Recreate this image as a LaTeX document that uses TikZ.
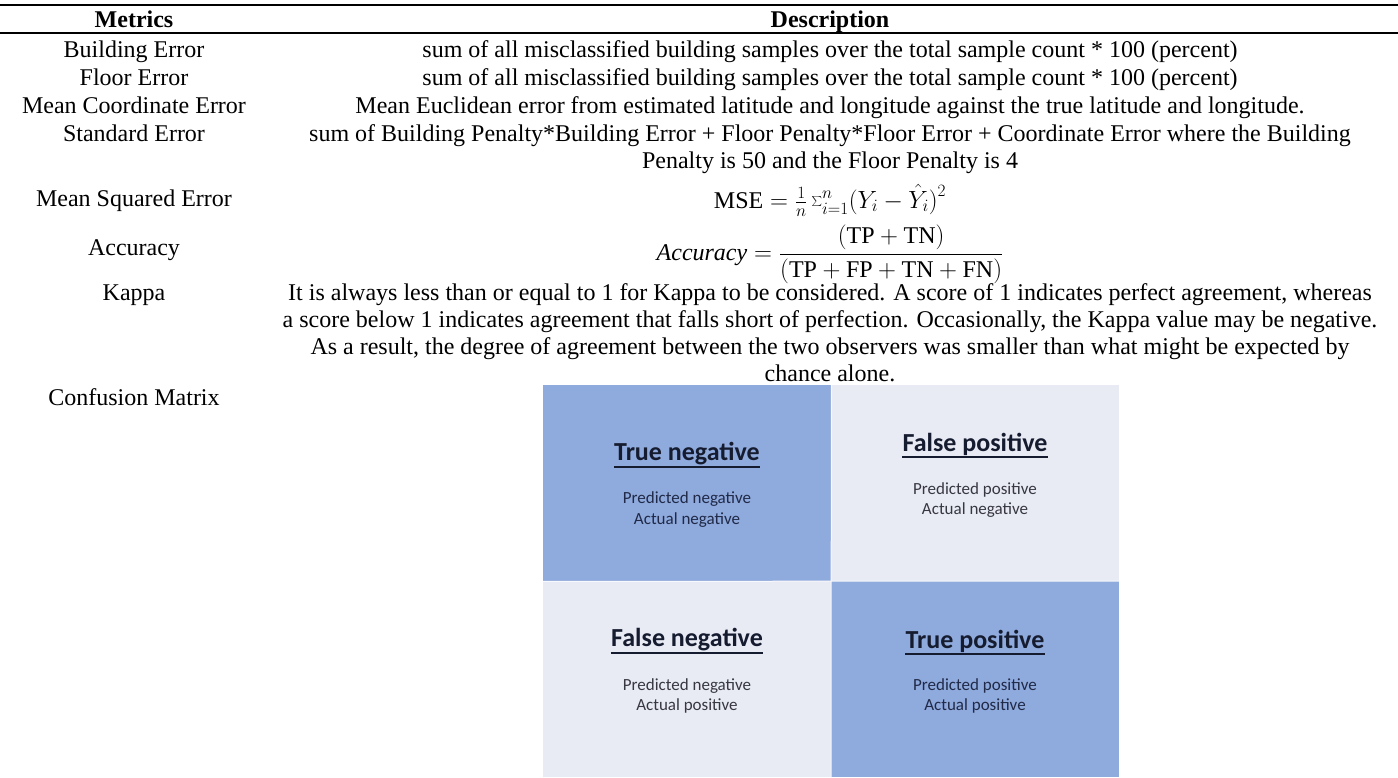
\documentclass[tikz,border=0pt]{standalone}
\usepackage{fontspec}
\setmainfont{Liberation Serif}
\newfontfamily\calibrifont{Carlito}
\definecolor{cmdark}{RGB}{143,170,220}
\definecolor{cmlight}{RGB}{232,234,244}
\definecolor{cmtitle}{RGB}{22,28,48}
\definecolor{cmsubdark}{RGB}{32,42,72}
\definecolor{cmsublight}{RGB}{55,55,65}
\begin{document}
\begin{tikzpicture}[x=1pt,y=-1pt,
  txt/.style={anchor=base, inner sep=0pt, font=\fontsize{24}{27.6}\selectfont},
  hdr/.style={txt, font=\fontsize{24}{27.6}\selectfont\bfseries},
  rulel/.style={line width=1.6pt},
  cellbox/.style={anchor=north west, inner sep=0pt, minimum width=288, minimum height=196},
  darkcell/.style={cellbox, fill=cmdark},
  lightcell/.style={cellbox, fill=cmlight},
  cmhead/.style={anchor=base, inner sep=0pt, text=cmtitle, font=\calibrifont\fontsize{26}{29}\selectfont\bfseries},
  cmsub/.style={anchor=base, inner sep=0pt, font=\calibrifont\fontsize{17}{20}\selectfont},
  uline/.style={line width=2pt, cmtitle}
]
\useasboundingbox (0,0) rectangle (1398,777);
% rules
\coordinate (r1a) at (0,4.7); \coordinate (r1b) at (1398,4.7);
\coordinate (r2a) at (0,33); \coordinate (r2b) at (1398,33);
\draw[rulel] (r1a) -- (r1b);
\draw[line width=1.2pt] (r2a) -- (r2b);
% header
\node[hdr] (hm) at (134,27) {Metrics};
\node[hdr] (hd) at (830,27) {Description};
% rows
\node[txt] (m1) at (134,57) {Building Error};
\node[txt] (d1) at (830,57) {sum of all misclassified building samples over the total sample count * 100 (percent)};
\node[txt] (m2) at (134,85) {Floor Error};
\node[txt] (d2) at (830,85) {sum of all misclassified building samples over the total sample count * 100 (percent)};
\node[txt] (m3) at (134,113) {Mean Coordinate Error};
\node[txt] (d3) at (830,113) {Mean Euclidean error from estimated latitude and longitude against the true latitude and longitude.};
\node[txt] (m4) at (134,141) {Standard Error};
\node[txt] (d4a) at (830,141) {sum of Building Penalty*Building Error + Floor Penalty*Floor Error + Coordinate Error where the Building};
\node[txt] (d4b) at (830,168) {Penalty is 50 and the Floor Penalty is 4};
\node[txt] (m5) at (134,206) {Mean Squared Error};
\node[txt] (d5) at (830,208) {$\mathrm{MSE}=\frac{1}{n}\sum_{i=1}^{n}\bigl(Y_i-\hat{Y}_i\bigr)^2$};
\node[txt] (m6) at (134,255) {Accuracy};
\node[anchor=center, inner sep=0pt, font=\fontsize{24}{27.6}\selectfont] (d6) at (830,254) {$\displaystyle \mathit{Accuracy}=\frac{(\mathrm{TP}+\mathrm{TN})}{(\mathrm{TP}+\mathrm{FP}+\mathrm{TN}+\mathrm{FN})}$};
\node[txt] (m7) at (134,300) {Kappa};
\node[txt] (d7a) at (830,300) {It is always less than or equal to 1 for Kappa to be considered. A score of 1 indicates perfect agreement, whereas};
\node[txt] (d7b) at (830,327) {a score below 1 indicates agreement that falls short of perfection. Occasionally, the Kappa value may be negative.};
\node[txt] (d7c) at (830,354) {As a result, the degree of agreement between the two observers was smaller than what might be expected by};
\node[txt] (d7d) at (830,381) {chance alone.};
\node[txt] (m8) at (134,405) {Confusion Matrix};
% confusion matrix
\node[darkcell] (tn) at (543,385) {};
\node[lightcell] (fp) at (831,385) {};
\node[lightcell] (fn) at (543,581) {};
\node[darkcell] (tp) at (831,581) {};
\draw[white!70!cmlight, line width=1pt] (tn.north east) -- (tp.south west);
\draw[white!70!cmlight, line width=1pt] (tn.south west) -- (tp.north east);
% TN
\node[cmhead] (tnh) at (687,460) {True negative};
\draw[uline] ([yshift=-2]tnh.south west) -- ([yshift=-2]tnh.south east);
\node[cmsub, text=cmsubdark] (tns1) at (687,503) {Predicted negative};
\node[cmsub, text=cmsubdark] (tns2) at (687,524) {Actual negative};
% FP
\node[cmhead] (fph) at (975,451) {False positive};
\draw[uline] ([yshift=-2]fph.south west) -- ([yshift=-2]fph.south east);
\node[cmsub, text=cmsublight] (fps1) at (975,494) {Predicted positive};
\node[cmsub, text=cmsublight] (fps2) at (975,514) {Actual negative};
% FN
\node[cmhead] (fnh) at (687,646) {False negative};
\draw[uline] ([yshift=-2]fnh.south west) -- ([yshift=-2]fnh.south east);
\node[cmsub, text=cmsublight] (fns1) at (687,690) {Predicted negative};
\node[cmsub, text=cmsublight] (fns2) at (687,710) {Actual positive};
% TP
\node[cmhead] (tph) at (975,648) {True positive};
\draw[uline] ([yshift=-2]tph.south west) -- ([yshift=-2]tph.south east);
\node[cmsub, text=cmsubdark] (tps1) at (975,690) {Predicted positive};
\node[cmsub, text=cmsubdark] (tps2) at (975,710) {Actual positive};
\end{tikzpicture}
\end{document}
